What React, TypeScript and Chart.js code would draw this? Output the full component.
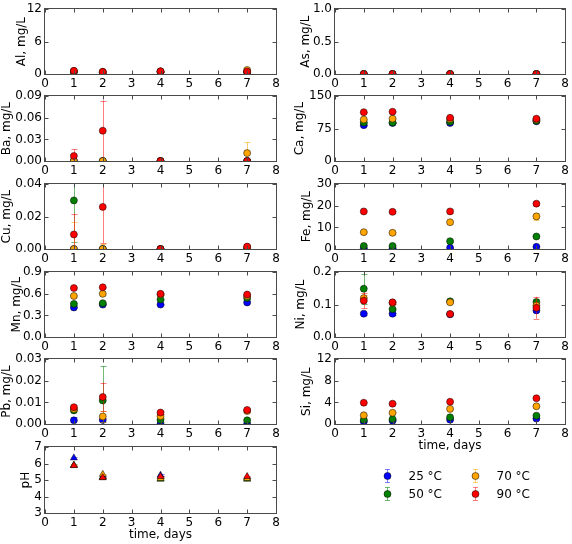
import React, { useEffect, useRef } from "react";
import { Chart, registerables } from "chart.js";

Chart.register(...registerables);

const FONT = "'DejaVu Sans', 'Liberation Sans', sans-serif";

// ---------------- data ----------------
const DAYS = [1, 2, 4, 7];
const X_TICKS = ["0", "1", "2", "3", "4", "5", "6", "7", "8"];
const X_TITLE = "time, days";
const TEMPERATURES = ["25 °C", "50 °C", "70 °C", "90 °C"];
const COLORS = ["#0000ff", "#008000", "#ffa500", "#ff0000"];
const ERR_COLORS = ["rgba(0,0,255,0.5)", "rgba(0,128,0,0.55)", "rgba(255,165,0,0.55)", "rgba(255,0,0,0.5)"];

// series order in every array: 25 °C, 50 °C, 70 °C, 90 °C
const AL_YTICKS = ["0", "6", "12"];
const AL = [
  [0.35, 0.3, 0.4, 0.3],
  [0.45, 0.3, 0.4, 0.4],
  [0.55, 0.4, 0.5, 0.75],
  [0.6, 0.4, 0.5, 0.45],
];
const AL_ERR = [
  [0.05, 0.05, 0.05, 0.05],
  [0.05, 0.05, 0.05, 0.05],
  [0.1, 0.05, 0.05, 0.1],
  [0.1, 0.05, 0.05, 0.05],
];

const AS_YTICKS = ["0.0", "0.5", "1.0"];
const AS = [
  [0, 0, 0, 0],
  [0, 0, 0, 0],
  [0, 0, 0, 0],
  [0, 0, 0, 0],
];
const AS_ERR = [
  [0, 0, 0, 0],
  [0, 0, 0, 0],
  [0, 0, 0, 0],
  [0, 0, 0, 0],
];

const BA_YTICKS = ["0.00", "0.03", "0.06", "0.09"];
const BA = [
  [0, 0, 0, 0],
  [0, 0, 0, 0],
  [0, 0, 0, 0.011],
  [0.007, 0.042, 0, 0],
];
const BA_ERR = [
  [0, 0, 0, 0],
  [0, 0, 0, 0],
  [0, 0, 0, 0.015],
  [0.009, 0.042, 0, 0],
];

const CA_YTICKS = ["0", "75", "150"];
const CA = [
  [83, 88, 88, 92],
  [89, 89, 91, 93],
  [96, 98, 97, 96],
  [113, 114, 100, 98],
];
const CA_ERR = [
  [1, 1, 1, 1],
  [1, 1, 1, 1],
  [1, 1, 1, 1],
  [1.5, 1.5, 1.5, 1.5],
];

const CU_YTICKS = ["0.00", "0.02", "0.04"];
const CU = [
  [0, 0, 0, 0],
  [0.03, 0, 0, 0],
  [0, 0, 0, 0.001],
  [0.009, 0.026, 0, 0.0015],
];
const CU_ERR = [
  [0, 0, 0, 0],
  [0.0254, 0, 0, 0],
  [0.0165, 0.003, 0, 0.0005],
  [0.0128, 0.0224, 0, 0.0008],
];

const FE_YTICKS = ["0", "10", "20", "30"];
const FE = [
  [0.3, 0.3, 0.6, 1.0],
  [1.4, 1.4, 3.6, 5.8],
  [7.8, 7.5, 12.4, 15.1],
  [17.4, 17.2, 17.4, 21.0],
];
const FE_ERR = [
  [0.1, 0.1, 0.2, 0.3],
  [0.3, 0.3, 0.5, 0.5],
  [0.5, 0.5, 0.8, 1.7],
  [0.5, 0.5, 0.9, 0.6],
];

const MN_YTICKS = ["0.0", "0.3", "0.6", "0.9"];
const MN = [
  [0.41, 0.45, 0.45, 0.48],
  [0.46, 0.47, 0.52, 0.54],
  [0.57, 0.6, 0.59, 0.57],
  [0.68, 0.69, 0.6, 0.59],
];
const MN_ERR = [
  [0.01, 0.01, 0.01, 0.01],
  [0.01, 0.01, 0.01, 0.01],
  [0.01, 0.01, 0.01, 0.01],
  [0.01, 0.01, 0.01, 0.01],
];

const NI_YTICKS = ["0.0", "0.1", "0.2"];
const NI = [
  [0.072, 0.072, 0.07, 0.082],
  [0.149, 0.086, 0.11, 0.108],
  [0.12, 0.105, 0.107, 0.097],
  [0.112, 0.107, 0.071, 0.09],
];
const NI_ERR = [
  [0.003, 0.003, 0.003, 0.005],
  [0.046, 0.004, 0.003, 0.01],
  [0.01, 0.004, 0.003, 0.012],
  [0.024, 0.005, 0.002, 0.034],
];

const PB_YTICKS = ["0.00", "0.01", "0.02", "0.03"];
const PB = [
  [0.0017, 0.0019, 0, 0],
  [0.0063, 0.0109, 0.0019, 0.0017],
  [0.007, 0.0035, 0.0036, 0.006],
  [0.0078, 0.0125, 0.0053, 0.0065],
];
const PB_ERR = [
  [0.0015, 0.001, 0, 0],
  [0.0005, 0.0158, 0.001, 0.001],
  [0.0008, 0.0025, 0.001, 0.001],
  [0.0008, 0.0067, 0.0008, 0.001],
];

const SI_YTICKS = ["0", "4", "8", "12"];
const SI = [
  [0.45, 0.6, 0.8, 1.0],
  [0.77, 0.9, 1.25, 1.54],
  [1.61, 2.08, 2.8, 3.28],
  [3.94, 3.76, 4.12, 4.77],
];
const SI_ERR = [
  [0.05, 0.05, 0.1, 0.1],
  [0.05, 0.05, 0.1, 0.1],
  [0.1, 0.1, 0.1, 0.1],
  [0.1, 0.1, 0.1, 0.1],
];

const PH_YTICKS = ["3", "4", "5", "6", "7"];
const PH = [
  [6.35, 5.2, 5.3, 5.15],
  [5.9, 5.15, 5.05, 5.05],
  [5.9, 5.35, 5.1, 5.1],
  [5.88, 5.15, 5.22, 5.22],
];
const PH_ERR = [
  [0.05, 0.05, 0.05, 0.05],
  [0.05, 0.05, 0.05, 0.05],
  [0.05, 0.05, 0.05, 0.05],
  [0.05, 0.05, 0.05, 0.05],
];

// ---------------- layout ----------------
const COL_PLOT_LEFT = [45, 335];
const COL_PLOT_W = [231, 232];
const COL_PAD_R = [12, 5];
const ROW_TOP = [7, 94, 182, 270, 357, 445];
const ROW_H = [67, 67, 67, 67, 67, 68];
const Y_AXIS_W = 45;
const PAD_T = 8;
const FRAME_COLOR = "#4a4a4a";
const TICK_LEN = 4;

type PanelDef = {
  title: string;
  values: number[][];
  errors: number[][];
  yTicks: string[];
  col: number;
  row: number;
  titleX: number;
  marker: "circle" | "triangle";
  xTitle?: boolean;
  legend?: boolean;
};

const PANELS: PanelDef[] = [
  { title: "Al, mg/L", values: AL, errors: AL_ERR, yTicks: AL_YTICKS, col: 0, row: 0, titleX: 22, marker: "circle" },
  { title: "Ba, mg/L", values: BA, errors: BA_ERR, yTicks: BA_YTICKS, col: 0, row: 1, titleX: 7, marker: "circle" },
  { title: "Cu, mg/L", values: CU, errors: CU_ERR, yTicks: CU_YTICKS, col: 0, row: 2, titleX: 6.5, marker: "circle" },
  { title: "Mn, mg/L", values: MN, errors: MN_ERR, yTicks: MN_YTICKS, col: 0, row: 3, titleX: 16.5, marker: "circle" },
  { title: "Pb, mg/L", values: PB, errors: PB_ERR, yTicks: PB_YTICKS, col: 0, row: 4, titleX: 6.5, marker: "circle" },
  { title: "pH", values: PH, errors: PH_ERR, yTicks: PH_YTICKS, col: 0, row: 5, titleX: 26, marker: "triangle", xTitle: true },
  { title: "As, mg/L", values: AS, errors: AS_ERR, yTicks: AS_YTICKS, col: 1, row: 0, titleX: 15.5, marker: "circle" },
  { title: "Ca, mg/L", values: CA, errors: CA_ERR, yTicks: CA_YTICKS, col: 1, row: 1, titleX: 10, marker: "circle" },
  { title: "Fe, mg/L", values: FE, errors: FE_ERR, yTicks: FE_YTICKS, col: 1, row: 2, titleX: 17, marker: "circle" },
  { title: "Ni, mg/L", values: NI, errors: NI_ERR, yTicks: NI_YTICKS, col: 1, row: 3, titleX: 11, marker: "circle" },
  { title: "Si, mg/L", values: SI, errors: SI_ERR, yTicks: SI_YTICKS, col: 1, row: 4, titleX: 17, marker: "circle", xTitle: true, legend: true },
];

// ---------------- plugins ----------------
const errorBarPlugin = {
  id: "errorBars",
  beforeDatasetDraw(chart: any, args: any) {
    const ds = chart.data.datasets[args.index];
    const errs: number[] | undefined = ds.errors;
    if (!errs) return;
    const { ctx, chartArea: a } = chart;
    const ys = chart.scales.y;
    ctx.save();
    ctx.beginPath();
    ctx.rect(a.left, a.top, a.right - a.left, a.bottom - a.top);
    ctx.clip();
    ctx.strokeStyle = ds.errColor;
    ctx.lineWidth = 1;
    args.meta.data.forEach((pt: any, j: number) => {
      const e = errs[j];
      if (!e) return;
      const v = ds.data[j].y;
      const y1 = ys.getPixelForValue(v - e);
      const y2 = ys.getPixelForValue(v + e);
      const px = Math.round(pt.x) + 0.5;
      ctx.beginPath();
      ctx.moveTo(px, y1);
      ctx.lineTo(px, y2);
      ctx.moveTo(px - 3, Math.round(y1) + 0.5);
      ctx.lineTo(px + 3, Math.round(y1) + 0.5);
      ctx.moveTo(px - 3, Math.round(y2) + 0.5);
      ctx.lineTo(px + 3, Math.round(y2) + 0.5);
      ctx.stroke();
    });
    ctx.restore();
  },
};

const framePlugin = {
  id: "frame",
  afterDraw(chart: any) {
    const { ctx, chartArea: a, scales } = chart;
    const L = Math.round(a.left) - 0.5;
    const R = Math.round(a.right) + 0.5;
    const T = Math.round(a.top) - 0.5;
    const B = Math.round(a.bottom) + 0.5;
    ctx.save();
    ctx.strokeStyle = FRAME_COLOR;
    ctx.lineWidth = 1;
    ctx.strokeRect(L, T, R - L, B - T);
    ctx.beginPath();
    scales.x.ticks.forEach((t: any) => {
      const px = Math.round(scales.x.getPixelForValue(t.value)) + 0.5;
      ctx.moveTo(px, B);
      ctx.lineTo(px, B - TICK_LEN);
      ctx.moveTo(px, T);
      ctx.lineTo(px, T + TICK_LEN);
    });
    scales.y.ticks.forEach((t: any) => {
      const py = Math.round(scales.y.getPixelForValue(t.value)) + 0.5;
      ctx.moveTo(L, py);
      ctx.lineTo(L + TICK_LEN, py);
      ctx.moveTo(R, py);
      ctx.lineTo(R - TICK_LEN, py);
    });
    ctx.stroke();
    ctx.restore();
  },
};

const legendPlugin = {
  id: "tempLegend",
  afterDraw(chart: any) {
    const { ctx, chartArea: a } = chart;
    ctx.save();
    TEMPERATURES.forEach((label, k) => {
      const col = Math.floor(k / 2);
      const row = k % 2;
      const mx = a.left + 52.5 + col * 88;
      const my = a.bottom + 52 + row * 18;
      ctx.strokeStyle = ERR_COLORS[k];
      ctx.lineWidth = 1;
      ctx.beginPath();
      ctx.moveTo(mx, my - 6.5);
      ctx.lineTo(mx, my + 6.5);
      ctx.moveTo(mx - 2.5, my - 6.5);
      ctx.lineTo(mx + 2.5, my - 6.5);
      ctx.moveTo(mx - 2.5, my + 6.5);
      ctx.lineTo(mx + 2.5, my + 6.5);
      ctx.stroke();
      ctx.beginPath();
      ctx.arc(mx, my, 3.5, 0, Math.PI * 2);
      ctx.fillStyle = COLORS[k];
      ctx.fill();
      ctx.strokeStyle = "#000";
      ctx.lineWidth = 0.5;
      ctx.stroke();
      ctx.fillStyle = "#000";
      ctx.font = `12px ${FONT}`;
      ctx.textAlign = "left";
      ctx.textBaseline = "middle";
      ctx.fillText(label, mx + 21, my + 0.5);
    });
    ctx.restore();
  },
};

// ---------------- components ----------------
function Panel({ p }: { p: PanelDef }) {
  const ref = useRef<HTMLCanvasElement | null>(null);
  const plotLeft = COL_PLOT_LEFT[p.col];
  const plotW = COL_PLOT_W[p.col];
  const padR = COL_PAD_R[p.col];
  const plotTop = ROW_TOP[p.row];
  const plotH = ROW_H[p.row];
  const xH = p.xTitle ? 32 : 18;
  const extraB = p.legend ? 56 : 0;
  const left = plotLeft - Y_AXIS_W;
  const top = plotTop - PAD_T;
  const width = Y_AXIS_W + plotW + padR;
  const height = PAD_T + plotH + xH + extraB;

  useEffect(() => {
    const yVals = p.yTicks.map(Number);
    const xVals = X_TICKS.map(Number);
    const datasets = p.values.map((series, k) => ({
      label: TEMPERATURES[k],
      data: DAYS.map((d, j) => ({ x: d, y: series[j] })),
      errors: p.errors[k],
      errColor: ERR_COLORS[k],
      pointRadius: p.marker === "triangle" ? 4 : 3.5,
      pointHoverRadius: p.marker === "triangle" ? 4 : 3.5,
      pointStyle: p.marker,
      pointBackgroundColor: COLORS[k],
      pointBorderColor: "#000",
      pointBorderWidth: 0.5,
      backgroundColor: COLORS[k],
      borderColor: "#000",
      showLine: false,
      order: 3 - k,
      clip: 0,
    }));
    const tickFont = { family: FONT, size: 12 };
    const chart = new Chart(ref.current as HTMLCanvasElement, {
      type: "scatter",
      data: { datasets } as any,
      options: {
        animation: false,
        responsive: false,
        devicePixelRatio: 1,
        events: [],
        layout: { padding: { left: 0, top: PAD_T, right: padR, bottom: extraB } },
        plugins: { legend: { display: false }, tooltip: { enabled: false } },
        scales: {
          x: {
            type: "linear",
            min: xVals[0],
            max: xVals[xVals.length - 1],
            afterBuildTicks: (s: any) => {
              s.ticks = xVals.map((v) => ({ value: v }));
            },
            afterFit: (s: any) => {
              s.height = xH;
            },
            grid: { display: false, drawTicks: false, tickLength: 0 },
            border: { display: false },
            ticks: {
              padding: 3,
              color: "#000",
              font: tickFont,
              autoSkip: false,
              maxRotation: 0,
              minRotation: 0,
              callback: (_v: any, i: number) => X_TICKS[i],
            },
            title: {
              display: !!p.xTitle,
              text: X_TITLE,
              color: "#000",
              font: tickFont,
              padding: { top: 0, bottom: 3 },
            },
          },
          y: {
            type: "linear",
            min: yVals[0],
            max: yVals[yVals.length - 1],
            afterBuildTicks: (s: any) => {
              s.ticks = yVals.map((v) => ({ value: v }));
            },
            afterFit: (s: any) => {
              s.width = Y_AXIS_W;
            },
            grid: { display: false, drawTicks: false, tickLength: 0 },
            border: { display: false },
            ticks: {
              padding: 3,
              color: "#000",
              font: tickFont,
              autoSkip: false,
              callback: (_v: any, i: number) => p.yTicks[i],
            },
            title: {
              display: true,
              text: p.title,
              color: "#000",
              font: tickFont,
              padding: { top: p.titleX - 7.2, bottom: 0 },
            },
          },
        },
      } as any,
      plugins: p.legend ? [errorBarPlugin, framePlugin, legendPlugin] : [errorBarPlugin, framePlugin],
    });
    return () => chart.destroy();
  }, []);

  return (
    <canvas
      ref={ref}
      width={width}
      height={height}
      style={{ position: "absolute", left, top, width, height }}
    />
  );
}

export default function App() {
  return (
    <div
      style={{
        position: "absolute",
        left: 0,
        top: 0,
        width: 572,
        height: 544,
        overflow: "hidden",
        background: "#fff",
      }}
    >
      {PANELS.map((p) => (
        <Panel key={p.title} p={p} />
      ))}
    </div>
  );
}
